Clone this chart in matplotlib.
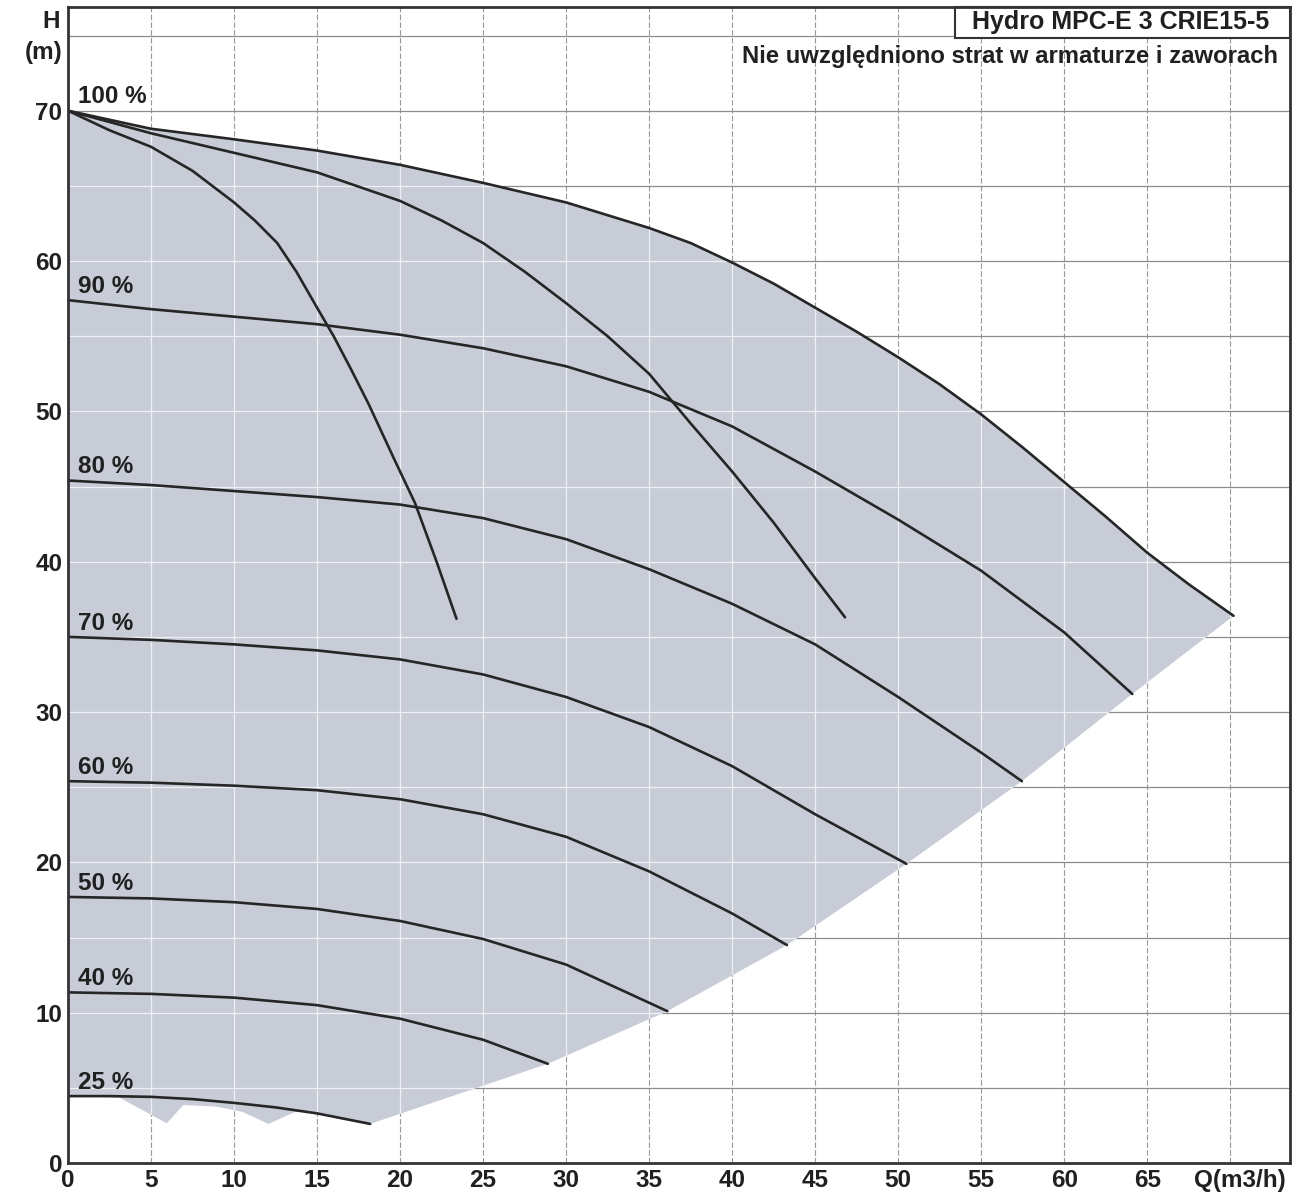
import matplotlib
matplotlib.use('Agg')
import matplotlib.pyplot as plt
from matplotlib.patches import Polygon, Rectangle

plt.rcParams['font.family'] = ['Liberation Sans', 'DejaVu Sans']

# ---------------- data ----------------
# 100 % speed, 1, 2 and 3 pumps in operation
q100_1 = [0, 2.5, 5, 7.5, 10, 11.25, 12.6, 13.75, 15, 16, 17, 18.1, 19.7, 20.9, 22.2, 23.4]
h100_1 = [70, 68.7, 67.6, 66.0, 63.9, 62.7, 61.2, 59.3, 56.9, 55.0, 52.9, 50.5, 46.7, 43.9, 40.0, 36.2]
q100_2 = [0, 5, 10, 15, 20, 22.5, 25, 27.5, 30, 32.5, 35, 37.5, 40, 42.5, 45, 46.8]
h100_2 = [70, 68.5, 67.2, 65.9, 64.0, 62.7, 61.2, 59.3, 57.2, 55.0, 52.5, 49.2, 46.0, 42.6, 38.9, 36.3]
q100_3 = [0, 5, 10, 15, 20, 25, 30, 35, 37.5, 40, 42.5, 45, 47.5, 50, 52.5, 55, 57.5, 60, 62.5, 65, 67.5, 70.2]
h100_3 = [70, 68.8, 68.1, 67.35, 66.4, 65.2, 63.9, 62.2, 61.2, 59.9, 58.5, 56.9, 55.3, 53.6, 51.8, 49.8, 47.6, 45.3, 43.0, 40.6, 38.5, 36.4]

q90 = [0, 5, 10, 15, 20, 25, 30, 35, 40, 45, 50, 55, 60, 64.1]
h90 = [57.4, 56.8, 56.3, 55.8, 55.1, 54.2, 53.0, 51.3, 49.0, 46.0, 42.8, 39.4, 35.3, 31.2]
q80 = [0, 5, 10, 15, 20, 25, 30, 35, 40, 45, 50, 55, 57.45]
h80 = [45.4, 45.1, 44.7, 44.3, 43.8, 42.9, 41.5, 39.5, 37.2, 34.5, 31.0, 27.3, 25.4]
q70 = [0, 5, 10, 15, 20, 25, 30, 35, 40, 45, 50.5]
h70 = [35.0, 34.8, 34.5, 34.1, 33.5, 32.5, 31.0, 29.0, 26.4, 23.2, 19.9]
q60 = [0, 5, 10, 15, 20, 25, 30, 35, 40, 43.3]
h60 = [25.4, 25.3, 25.1, 24.8, 24.2, 23.2, 21.7, 19.4, 16.6, 14.5]
q50 = [0, 5, 10, 15, 20, 25, 30, 36.1]
h50 = [17.7, 17.6, 17.35, 16.9, 16.1, 14.9, 13.2, 10.1]
q40 = [0, 5, 10, 15, 20, 25, 28.9]
h40 = [11.35, 11.25, 11.0, 10.5, 9.6, 8.2, 6.6]
q25 = [0, 2.5, 5, 7.5, 10, 12.5, 15, 18.2]
h25 = [4.45, 4.45, 4.4, 4.25, 4.0, 3.7, 3.3, 2.6]

# lower edge of the operating area (1- and 2-pump notches at 25 %)
low_q = [13.8, 12.07, 10.5, 8.95, 6.95, 5.95, 3.1, 0]
low_h = [3.45, 2.6, 3.4, 3.75, 3.86, 2.64, 4.35, 4.45]

speed_labels = ['100 %', '90 %', '80 %', '70 %', '60 %', '50 %', '40 %', '25 %']
x_ticks = [0, 5, 10, 15, 20, 25, 30, 35, 40, 45, 50, 55, 60, 65]
y_ticks = [0, 10, 20, 30, 40, 50, 60, 70]
x_grid = [0, 5, 10, 15, 20, 25, 30, 35, 40, 45, 50, 55, 60, 65, 70]
y_grid = [0, 5, 10, 15, 20, 25, 30, 35, 40, 45, 50, 55, 60, 65, 70, 75]

title_text = 'Hydro MPC-E 3 CRIE15-5'
note_text = 'Nie uwzględniono strat w armaturze i zaworach'

# ---------------- figure ----------------
W, H = 1302, 1196
fig = plt.figure(figsize=(W / 100, H / 100), dpi=100)
L, R, T, B = 68, 1290, 7, 1163
ax = fig.add_axes([L / W, 1 - B / H, (R - L) / W, (B - T) / H])
ax.set_xlim(0, 73.6)
ax.set_ylim(0, 76.9)

line_col = '#262626'
fill_col = '#c8ccd6'
txt_col = '#202020'
fs = 17.5

# background grid (grey)
ax.vlines(x_grid, 0, 76.9, colors='#9a9a9a', linewidth=0.8, linestyles=(0, (5, 2)), zorder=0.5)
ax.hlines(y_grid, 0, 73.6, colors='#8c8c8c', linewidth=0.9, zorder=0.5)

# operating area
speed_curves = [(q90, h90), (q80, h80), (q70, h70), (q60, h60), (q50, h50), (q40, h40), (q25, h25)]
poly_pts = list(zip(q100_3, h100_3))
for qc, hc in speed_curves:
    poly_pts.append((qc[-1], hc[-1]))
for qv, hv in zip(reversed(q25[:-1]), reversed(h25[:-1])):
    if qv > low_q[0]:
        poly_pts.append((qv, hv))
poly_pts += list(zip(low_q, low_h))
poly = Polygon(poly_pts, closed=True, facecolor=fill_col, edgecolor='none', zorder=1)
ax.add_patch(poly)

# light grid over the area
vl = ax.vlines(x_grid, 0, 76.9, colors='#eef0f4', linewidth=0.9, zorder=1.2)
hl = ax.hlines(y_grid, 0, 73.6, colors='#eef0f4', linewidth=0.9, zorder=1.2)
vl.set_clip_path(poly)
hl.set_clip_path(poly)

# curves
all_curves = [(q100_1, h100_1), (q100_2, h100_2), (q100_3, h100_3)] + speed_curves
for qc, hc in all_curves:
    ax.plot(qc, hc, color=line_col, linewidth=1.9, solid_joinstyle='round',
            solid_capstyle='round', zorder=3)

# speed labels
starts = [h100_3[0]] + [hc[0] for _, hc in speed_curves]
for lab, h0 in zip(speed_labels, starts):
    ax.text(0.6, h0 + 0.15, lab, fontsize=fs, color=txt_col, ha='left', va='bottom',
            fontweight='bold', zorder=4)

# ticks
ax.set_xticks(x_ticks)
ax.set_yticks(y_ticks)
ax.set_xticklabels([str(v) for v in x_ticks])
ax.set_yticklabels([str(v) for v in y_ticks])
ax.tick_params(length=0, labelsize=fs, pad=4, labelcolor=txt_col)
for lbl in ax.get_xticklabels() + ax.get_yticklabels():
    lbl.set_fontweight('bold')
ax.text(70.6, -17 / (B - T), 'Q(m3/h)', transform=ax.get_xaxis_transform(), ha='center',
        va='center', fontsize=fs, fontweight='bold', color=txt_col)

for sp in ax.spines.values():
    sp.set_linewidth(2.0)
    sp.set_color('#333333')
    sp.set_zorder(5)

# axis label H (m)
fig.text(60 / W, 1 - 22 / H, 'H', ha='right', va='center', fontsize=fs, fontweight='bold', color=txt_col)
fig.text(63 / W, 1 - 53 / H, '(m)', ha='right', va='center', fontsize=fs, fontweight='bold', color=txt_col)

# title box
bx0 = (955 - L) / (R - L)
by0 = (B - 38) / (B - T)
ax.add_patch(Rectangle((bx0, by0), 1 - bx0, 1 - by0, transform=ax.transAxes, facecolor='white',
                       edgecolor='#333333', linewidth=1.5, zorder=4.5, clip_on=False))
ax.text((1121 - L) / (R - L), (B - 22) / (B - T), title_text, transform=ax.transAxes,
        ha='center', va='center', fontsize=18, fontweight='bold', color=txt_col, zorder=6)
ax.text((1278 - L) / (R - L), (B - 57) / (B - T), note_text, transform=ax.transAxes,
        ha='right', va='center', fontsize=17.2, fontweight='bold', color=txt_col, zorder=6)

fig.savefig('out.png', dpi=100)
